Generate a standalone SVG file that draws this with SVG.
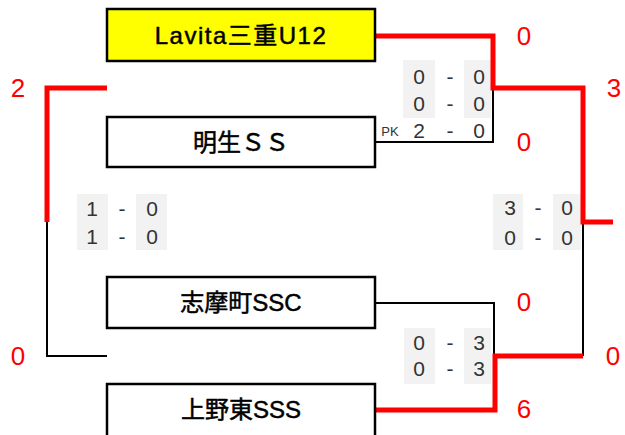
<svg xmlns="http://www.w3.org/2000/svg" width="625" height="435" viewBox="0 0 625 435">
<style>
.box{fill:#fff;stroke:#000;stroke-width:2.5}
.name{font-family:"Liberation Sans","Noto Sans CJK JP",sans-serif;font-size:24px;fill:#000;stroke:#000;stroke-width:0.5;text-anchor:middle}
.red{fill:none;stroke:#ff0000;stroke-width:5}
.blk{fill:none;stroke:#000;stroke-width:2}
.gray{fill:#f2f2f2}
.sc{font-family:"Liberation Sans","DejaVu Sans",sans-serif;font-size:21px;fill:#333;text-anchor:middle}
.pk{font-family:"Liberation Sans",sans-serif;font-size:13px;fill:#333;text-anchor:middle}
.rn{font-family:"Liberation Sans","DejaVu Sans",sans-serif;font-size:26px;fill:#ff0000;text-anchor:middle}
</style>
<rect width="625" height="435" fill="#fff"/>
<g id="scoreboxes">
<rect class="gray" x="403" y="60" width="32" height="58"/>
<rect class="gray" x="464" y="60" width="27" height="58"/>
<rect class="gray" x="404" y="328" width="31" height="56"/>
<rect class="gray" x="464" y="328" width="27" height="56"/>
<rect class="gray" x="77" y="194" width="31" height="56"/>
<rect class="gray" x="136" y="194" width="31" height="56"/>
<rect class="gray" x="493" y="194" width="30" height="56"/>
<rect class="gray" x="553" y="194" width="28" height="56"/>
</g>
<g id="connectors">
<polyline class="blk" points="375,142 493,142 493,88"/>
<polyline class="blk" points="375,303 494,303 494,356"/>
<polyline class="blk" points="47,222 47,356 107,356"/>
<polyline class="blk" points="583,222 583,356"/>
<polyline class="red" points="375,36 493,36 493,88 583,88 583,222 613,222"/>
<polyline class="red" points="375,410 495,410 495,356 583,356"/>
<polyline class="red" points="107,88 47,88 47,222"/>
</g>
<g id="node-lavita">
<rect class="box" x="107" y="9" width="268" height="52" style="fill:#ffff00"/>
<text class="name" x="241" y="44" letter-spacing="1.5">Lavita三重U12</text>
</g>
<g id="node-meisei">
<rect class="box" x="107" y="117" width="268" height="50"/>
<text class="name" x="241" y="151" style="font-family:'Noto Sans CJK JP',sans-serif">明生ＳＳ</text>
</g>
<g id="node-shima">
<rect class="box" x="107" y="277" width="268" height="51"/>
<text class="name" x="241" y="311">志摩町SSC</text>
</g>
<g id="node-uenohigashi">
<rect class="box" x="107" y="384" width="268" height="60"/>
<text class="name" x="241" y="418">上野東SSS</text>
</g>
<g id="scores">
<text class="sc" x="419" y="84">0</text><text class="sc" x="450" y="84">-</text><text class="sc" x="479" y="84">0</text>
<text class="sc" x="419" y="111">0</text><text class="sc" x="450" y="111">-</text><text class="sc" x="479" y="111">0</text>
<text class="pk" x="390" y="136">PK</text>
<text class="sc" x="419" y="138">2</text><text class="sc" x="450" y="138">-</text><text class="sc" x="479" y="138">0</text>
<text class="sc" x="419" y="350">0</text><text class="sc" x="450" y="350">-</text><text class="sc" x="479" y="350">3</text>
<text class="sc" x="419" y="376">0</text><text class="sc" x="450" y="376">-</text><text class="sc" x="479" y="376">3</text>
<text class="sc" x="92" y="216">1</text><text class="sc" x="122" y="216">-</text><text class="sc" x="152" y="216">0</text>
<text class="sc" x="92" y="244">1</text><text class="sc" x="122" y="244">-</text><text class="sc" x="152" y="244">0</text>
<text class="sc" x="510" y="215">3</text><text class="sc" x="538" y="215">-</text><text class="sc" x="567" y="215">0</text>
<text class="sc" x="510" y="245">0</text><text class="sc" x="538" y="245">-</text><text class="sc" x="567" y="245">0</text>
</g>
<g id="results">
<text class="rn" x="524" y="45">0</text>
<text class="rn" x="614" y="97">3</text>
<text class="rn" x="524" y="151">0</text>
<text class="rn" x="18" y="97">2</text>
<text class="rn" x="18" y="365">0</text>
<text class="rn" x="524" y="311">0</text>
<text class="rn" x="613" y="365">0</text>
<text class="rn" x="524" y="418">6</text>
</g>
</svg>
